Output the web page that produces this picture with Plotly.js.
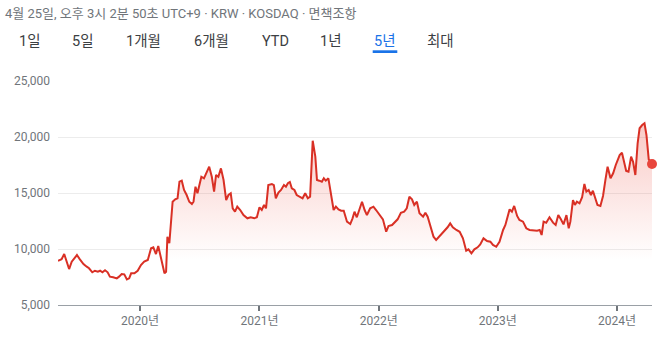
<!DOCTYPE html>
<html>
<head>
<meta charset="utf-8">
<script src="https://cdn.plot.ly/plotly-3.0.1.min.js"></script>
<style>html,body{margin:0;padding:0;background:#fff;}#chart{width:659px;height:337px;}</style>
</head>
<body>
<div id="chart"></div>
<script>
const dates = ["2019-04-25","2019-05-06","2019-05-14","2019-05-22","2019-05-29","2019-06-06","2019-06-14","2019-06-22","2019-07-01","2019-07-12","2019-07-22","2019-07-29","2019-08-08","2019-08-16","2019-08-25","2019-09-01","2019-09-08","2019-09-16","2019-09-24","2019-10-01","2019-10-11","2019-10-22","2019-10-29","2019-11-06","2019-11-14","2019-11-22","2019-11-29","2019-12-05","2019-12-15","2019-12-25",
"2020-01-04","2020-01-14","2020-01-25","2020-02-04","2020-02-11","2020-02-19","2020-02-26","2020-03-06","2020-03-13","2020-03-16","2020-03-21","2020-03-25","2020-03-31","2020-04-10","2020-04-18","2020-04-25","2020-05-01","2020-05-08","2020-05-15","2020-05-23","2020-05-31","2020-06-08","2020-06-13","2020-06-19","2020-06-25","2020-07-01","2020-07-07","2020-07-15","2020-07-22","2020-07-31","2020-08-08","2020-08-15","2020-08-21","2020-08-28","2020-09-05","2020-09-13","2020-09-21","2020-09-28","2020-10-05","2020-10-11","2020-10-18","2020-10-25","2020-11-03","2020-11-13","2020-11-25","2020-12-05","2020-12-16","2020-12-24",
"2021-01-01","2021-01-08","2021-01-15","2021-01-21","2021-01-28","2021-02-08","2021-02-14","2021-02-20","2021-02-28","2021-03-08","2021-03-17","2021-03-23","2021-03-29","2021-04-04","2021-04-10","2021-04-18","2021-04-25","2021-05-06","2021-05-13","2021-05-21","2021-05-29","2021-06-05","2021-06-13","2021-06-21","2021-06-26","2021-07-03","2021-07-11","2021-07-17","2021-07-23","2021-07-31","2021-08-09","2021-08-16","2021-08-23","2021-08-31","2021-09-08","2021-09-16","2021-09-26","2021-10-06","2021-10-13","2021-10-19","2021-10-26","2021-11-02","2021-11-11","2021-11-19","2021-11-26","2021-12-06","2021-12-16","2021-12-24",
"2022-01-04","2022-01-14","2022-01-24","2022-01-31","2022-02-11","2022-02-21","2022-02-28","2022-03-10","2022-03-20","2022-03-28","2022-04-05","2022-04-13","2022-04-20","2022-04-28","2022-05-06","2022-05-17","2022-05-24","2022-05-31","2022-06-08","2022-06-18","2022-06-26","2022-07-06","2022-07-19","2022-07-31","2022-08-08","2022-08-16","2022-08-27","2022-09-06","2022-09-16","2022-09-26","2022-10-03","2022-10-12","2022-10-21","2022-10-31","2022-11-08","2022-11-18","2022-11-29","2022-12-09","2022-12-17","2022-12-27",
"2023-01-06","2023-01-17","2023-01-24","2023-01-31","2023-02-06","2023-02-13","2023-02-20","2023-03-01","2023-03-08","2023-03-19","2023-03-29","2023-04-08","2023-04-20","2023-05-01","2023-05-09","2023-05-15","2023-05-21","2023-05-29","2023-06-08","2023-06-19","2023-06-27","2023-07-05","2023-07-13","2023-07-21","2023-07-30","2023-08-06","2023-08-11","2023-08-19","2023-08-25","2023-08-31","2023-09-08","2023-09-16","2023-09-23","2023-09-29","2023-10-06","2023-10-13","2023-10-19","2023-10-26","2023-11-02","2023-11-11","2023-11-19","2023-11-26","2023-12-03","2023-12-12","2023-12-20","2023-12-28",
"2024-01-03","2024-01-09","2024-01-16","2024-01-23","2024-01-29","2024-02-05","2024-02-13","2024-02-19","2024-02-26","2024-03-04","2024-03-10","2024-03-18","2024-03-25","2024-03-31","2024-04-07","2024-04-17"];

const prices = [8950,9080,9550,8720,8210,8870,9170,9460,9080,8660,8420,8280,7920,8060,7970,8060,7920,8100,7920,7530,7470,7380,7530,7770,7740,7290,7380,7830,7830,8060,
8570,8870,9020,10060,10150,9550,10270,9020,7970,7830,7970,11100,10510,14220,14440,14530,16010,16100,15270,14820,14220,14020,14220,15560,14970,15870,16450,16310,16760,17350,16450,15120,16610,16450,17200,16160,14370,14820,14970,13630,13330,13780,13480,13030,12740,12830,12740,12830,
13720,13480,13930,13630,15710,15800,15710,14530,15030,15270,15710,15560,15870,15980,15420,15270,14820,14670,14530,14970,14530,14670,19670,18240,16160,16100,16010,16310,16100,16310,14670,13480,13780,13540,13420,13420,12440,12230,12740,13330,12830,13480,14220,13480,13030,13630,13780,13480,
13030,12650,11540,12050,12140,12440,12650,13240,13330,13630,14670,14440,13930,14220,13190,12880,13240,12880,11990,11100,10800,11100,11540,11940,12290,11940,11700,11540,10950,9850,9970,9620,9970,10150,10400,10950,10710,10650,10360,10200,
10650,11700,12140,12880,13540,13330,13840,12950,12590,12440,11850,11700,11630,11630,11700,11250,12440,12350,12830,12350,12140,13030,12650,12200,13030,11850,12440,14370,13930,14220,14080,14620,15800,15120,15270,14820,15200,14620,13930,13840,14730,16100,17350,16310,16760,17500,
17880,18390,18600,17650,16960,16900,18240,17790,16610,19440,20780,21070,21220,20180,18010,17590];

const yTicks = [5000, 10000, 15000, 20000, 25000];
const xTicks = ["2020-01-01","2021-01-01","2022-01-01","2023-01-01","2024-01-01"];
const headerText = "4월 25일, 오후 3시 2분 50초 UTC+9 · KRW · KOSDAQ · 면책조항";
const tabLabels = ["1일","5일","1개월","6개월","YTD","1년","5년","최대"];
const activeTab = "5년";

// layout helpers (pixel -> paper)
const W = 659, H = 337, L = 58, R = 7, T = 81, B = 32;
const pw = W - L - R, ph = H - T - B;
const px = v => (v - L) / pw;
const py = v => (H - B - v) / ph;
const tabCenters = [30, 83, 143.7, 211, 275.5, 331, 385, 440];

const FONT = "Roboto, 'Noto Sans CJK KR', sans-serif";

const annotations = [{
  text: headerText, xref: 'paper', yref: 'paper', x: px(3), y: py(13.5),
  xanchor: 'left', yanchor: 'middle', showarrow: false,
  font: {family: FONT, size: 13, color: '#70757a'}
}];
tabLabels.forEach((t, i) => {
  annotations.push({
    text: t, xref: 'paper', yref: 'paper', x: px(tabCenters[i]), y: py(41.5),
    xanchor: 'center', yanchor: 'middle', showarrow: false,
    font: {family: FONT, size: 14.5, color: t === activeTab ? '#1a73e8' : '#3c4043'}
  });
});

const ai = tabLabels.indexOf(activeTab);
const shapes = [{
  type: 'rect', xref: 'paper', yref: 'paper',
  x0: px(tabCenters[ai] - 12.3), x1: px(tabCenters[ai] + 12.3),
  y0: py(53), y1: py(50.3), fillcolor: '#1a73e8', line: {width: 0}
}];

const lastIdx = dates.length - 1;
const traces = [{
  x: dates, y: prices, type: 'scatter', mode: 'lines',
  line: {color: '#d93025', width: 2},
  fill: 'tozeroy',
  fillgradient: {type: 'vertical', start: 9000, stop: 22000,
    colorscale: [[0, 'rgba(234,67,53,0)'], [1, 'rgba(234,67,53,0.3)']]},
  hoverinfo: 'skip'
}, {
  x: [dates[lastIdx]], y: [prices[lastIdx]], type: 'scatter', mode: 'markers',
  marker: {color: '#e8453c', size: 10}, hoverinfo: 'skip', cliponaxis: false
}];

const layout = {
  width: W, height: H,
  margin: {l: L, r: R, t: T, b: B, pad: 0},
  paper_bgcolor: '#fff', plot_bgcolor: '#fff',
  showlegend: false,
  font: {family: FONT, color: '#70757a'},
  xaxis: {
    type: 'date', range: ["2019-04-25", "2024-04-17"],
    tickvals: xTicks, tickformat: '%Y년',
    showgrid: false, zeroline: false,
    showline: true, linecolor: '#9aa0a6', linewidth: 1,
    ticks: 'outside', ticklen: 5, tickwidth: 2, tickcolor: '#70757a',
    tickfont: {family: FONT, size: 12, color: '#70757a'}
  },
  yaxis: {
    range: [5000, 25000], tickvals: yTicks, tickformat: ',d',
    showgrid: true, gridcolor: '#ececec', gridwidth: 1,
    zeroline: false, showline: false, ticks: '',
    ticklabelstandoff: 7,
    tickfont: {family: FONT, size: 12, color: '#70757a'}
  },
  annotations: annotations,
  shapes: shapes
};

Plotly.newPlot('chart', traces, layout, {staticPlot: true, displayModeBar: false});
</script>
</body>
</html>
